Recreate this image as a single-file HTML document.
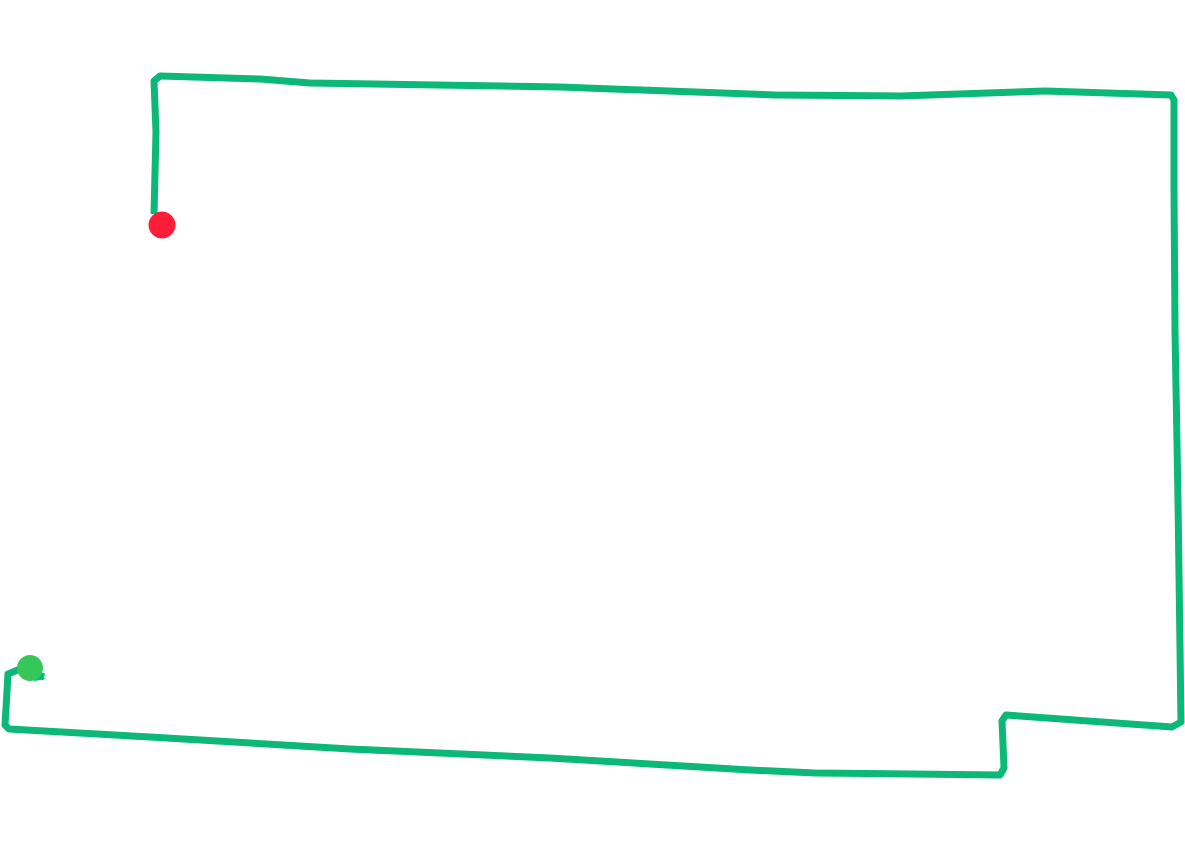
<!DOCTYPE html>
<html><head><meta charset="utf-8"><style>html,body{margin:0;padding:0;background:#fff;width:1185px;height:854px;overflow:hidden}</style></head>
<body>
<svg width="1185" height="854" viewBox="0 0 1185 854" xmlns="http://www.w3.org/2000/svg">
<polyline fill="none" stroke="#0cb877" stroke-width="7" stroke-linejoin="round" stroke-linecap="butt"
points="44,677 20,669 8,674 5,725 9,729 150,737 350,749 550,758 750,770 815,773 1000,775 1004,768 1002,721 1006,715 1172,727 1181,722 1178,500 1175,330 1174,190 1174,100 1171,95 1045,91 900,96 775,95 560,87 310,83 260,79 160,76 154,81 156,132 154,214"/>
<polygon points="34,672 46,679 34,681" fill="#0cb877"/>
<circle cx="30" cy="668" r="13" fill="#35c759"/>
<circle cx="162" cy="225" r="13.5" fill="#fe1d38"/>
</svg>
</body></html>
